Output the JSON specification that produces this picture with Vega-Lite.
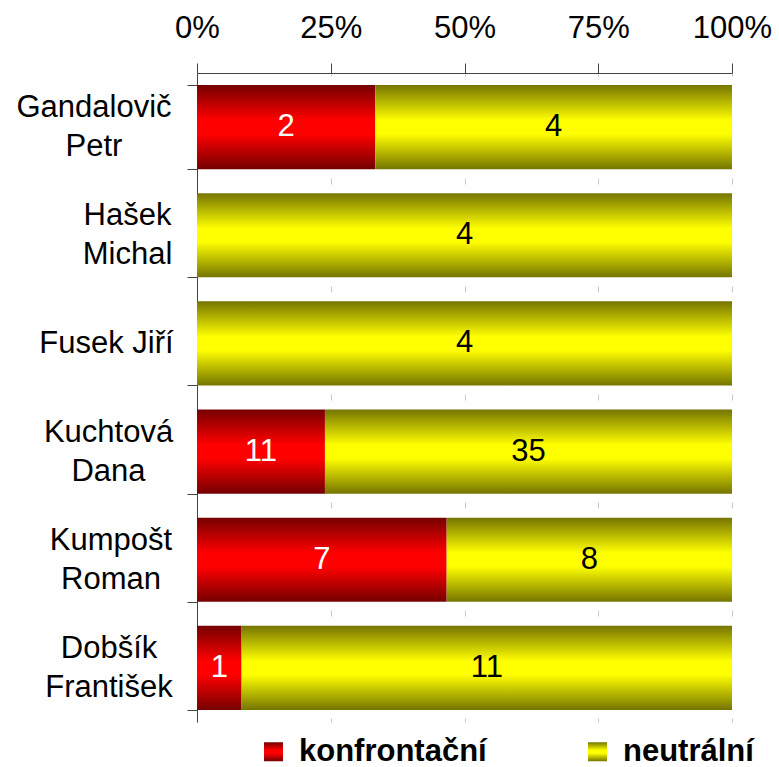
{
  "$schema": "https://vega.github.io/schema/vega-lite/v6.json",
  "width": 535,
  "height": 649,
  "autosize": {"type": "none"},
  "padding": {"left": 197, "top": 73, "right": 47, "bottom": 45},
  "config": {"font": "Liberation Sans", "view": {"stroke": null}},
  "data": {
    "values": [
      {"name": "Gandalovič|Petr", "type": "konfrontační", "count": 2},
      {"name": "Gandalovič|Petr", "type": "neutrální", "count": 4},
      {"name": "Hašek|Michal", "type": "neutrální", "count": 4},
      {"name": "Fusek Jiří", "type": "neutrální", "count": 4},
      {"name": "Kuchtová|Dana", "type": "konfrontační", "count": 11},
      {"name": "Kuchtová|Dana", "type": "neutrální", "count": 35},
      {"name": "Kumpošt|Roman", "type": "konfrontační", "count": 7},
      {"name": "Kumpošt|Roman", "type": "neutrální", "count": 8},
      {"name": "Dobšík|František", "type": "konfrontační", "count": 1},
      {"name": "Dobšík|František", "type": "neutrální", "count": 11}
    ]
  },
  "encoding": {
    "y": {
      "field": "name",
      "type": "nominal",
      "sort": ["Gandalovič|Petr", "Hašek|Michal", "Fusek Jiří", "Kuchtová|Dana", "Kumpošt|Roman", "Dobšík|František"],
      "scale": {"paddingInner": 0.222, "paddingOuter": 0.111},
      "axis": {
        "title": null,
        "labelExpr": "split(datum.label, '|')",
        "labelAlign": "center",
        "labelBaseline": "middle",
        "labelLineHeight": 39,
        "labelFontSize": 31,
        "labelFont": "Liberation Sans",
        "labelColor": "#000000",
        "labelLimit": 400,
        "labelOffset": {"condition": {"test": "datum.value === 'Fusek Jiří'", "value": 0}, "value": -19.5},
        "tickSize": 10,
        "labelPadding": 80,
        "tickBand": "extent",
        "domainColor": "#444444",
        "tickColor": "#444444",
        "grid": false,
        "encoding": {
          "labels": {
            "dx": {"value": {"expr": "datum.value === 'Gandalovič|Petr' ? -13.5 : datum.value === 'Hašek|Michal' ? 20 : datum.value === 'Fusek Jiří' ? -1 : datum.value === 'Kuchtová|Dana' ? 1 : datum.value === 'Kumpošt|Roman' ? 3.5 : 1.5"}}
          }
        }
      }
    }
  },
  "layer": [
    {
      "mark": {
        "type": "bar",
        "fill": {"expr": "datum.type === 'konfrontační' ? {gradient: 'linear', x1: 0, y1: 0, x2: 0, y2: 1, stops: [{offset: 0, color: '#750000'}, {offset: 0.42, color: '#ff0000'}, {offset: 0.58, color: '#ff0000'}, {offset: 1, color: '#750000'}]} : {gradient: 'linear', x1: 0, y1: 0, x2: 0, y2: 1, stops: [{offset: 0, color: '#757500'}, {offset: 0.42, color: '#ffff00'}, {offset: 0.58, color: '#ffff00'}, {offset: 1, color: '#757500'}]}"}
      },
      "encoding": {
        "x": {
          "field": "count",
          "type": "quantitative",
          "stack": "normalize",
          "scale": {"domain": [0, 1]},
          "axis": {
            "orient": "top",
            "title": null,
            "values": [0, 0.25, 0.5, 0.75, 1],
            "format": ".0%",
            "labelFontSize": 31,
            "labelFont": "Liberation Sans",
            "labelColor": "#000000",
            "labelFlush": false,
            "tickSize": 10,
            "labelPadding": 19,
            "domainColor": "#444444",
            "tickColor": "#444444",
            "grid": true,
            "gridColor": "#c8c8c8",
            "gridDash": [6, 102],
            "gridDashOffset": 3
          }
        },
        "detail": {"field": "type"},
        "order": {"field": "type", "type": "nominal", "sort": "ascending"}
      }
    },
    {
      "mark": {"type": "point", "filled": true, "opacity": 0},
      "encoding": {
        "x": {"field": "count", "type": "quantitative", "stack": "normalize"},
        "order": {"field": "type", "type": "nominal", "sort": "ascending"},
        "shape": {
          "field": "type",
          "type": "nominal",
          "scale": {"domain": ["konfrontační", "neutrální"], "range": ["square", "square"]},
          "legend": {
            "orient": "none",
            "legendX": 61,
            "legendY": 663,
            "direction": "horizontal",
            "title": null,
            "symbolSize": 361,
            "symbolStrokeWidth": 0,
            "symbolOpacity": 1,
            "labelFontSize": 31,
            "labelFont": "Liberation Sans",
            "labelFontWeight": "bold",
            "labelColor": "#000000",
            "labelLimit": 400,
            "labelOffset": 10,
            "columnPadding": 95,
            "padding": 0,
            "encoding": {
              "symbols": {
                "opacity": {"value": 1},
                "fill": {"value": {"expr": "datum.value === 'konfrontační' ? {gradient: 'linear', x1: 0, y1: 0, x2: 0, y2: 1, stops: [{offset: 0, color: '#750000'}, {offset: 0.42, color: '#ff0000'}, {offset: 0.58, color: '#ff0000'}, {offset: 1, color: '#750000'}]} : {gradient: 'linear', x1: 0, y1: 0, x2: 0, y2: 1, stops: [{offset: 0, color: '#757500'}, {offset: 0.42, color: '#ffff00'}, {offset: 0.58, color: '#ffff00'}, {offset: 1, color: '#757500'}]}"}}
              }
            }
          }
        }
      }
    },
    {
      "mark": {"type": "text", "fontSize": 31, "baseline": "middle", "font": "Liberation Sans"},
      "encoding": {
        "x": {"field": "count", "type": "quantitative", "stack": "normalize", "bandPosition": 0.5},
        "detail": {"field": "type"},
        "order": {"field": "type", "type": "nominal", "sort": "ascending"},
        "text": {"field": "count", "type": "quantitative"},
        "color": {"condition": {"test": "datum.type === 'konfrontační'", "value": "#ffffff"}, "value": "#000000"}
      }
    }
  ]
}
